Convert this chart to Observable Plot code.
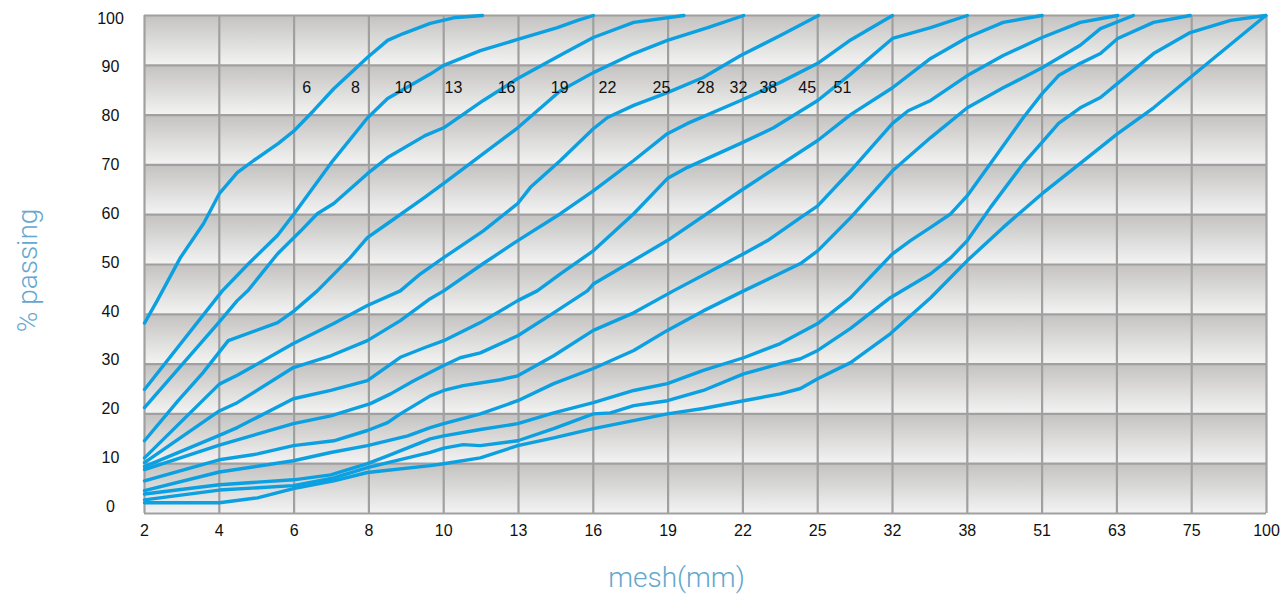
<!DOCTYPE html>
<html><head><meta charset="utf-8">
<script src="https://cdn.jsdelivr.net/npm/d3@7"></script>
<script src="https://cdn.jsdelivr.net/npm/@observablehq/plot@0.6"></script>
<style>
html,body{margin:0;padding:0;background:#fff;}
#chart svg{display:block;}
</style>
</head><body><div id="chart"></div>
<script>
// x axis categories (evenly spaced sieve sizes, mm)
const meshTicks = ["2","4","6","8","10","13","16","19","22","25","32","38","51","63","75","100"];
// y axis tick labels (% passing)
const yTicks = [0,10,20,30,40,50,60,70,80,90,100];
// curve names (max aggregate size) and where their labels sit (mesh position, % passing)
const curveNames = ["6","8","10","13","16","19","22","25","28","32","38","45","51"];
const labelMeshPos = [2.17,2.82,3.46,4.13,4.84,5.55,6.19,6.91,7.5,7.94,8.34,8.86,9.33];
const labelPassing = [85.2,85.2,85.2,85.2,85.2,85.2,85.2,85.2,85.2,85.2,85.2,85.2,85.2];

// grading curves: [mesh position (0 = 2 mm ... 15 = 100 mm), % passing]
const s6 = [[0,37],[0.17,41.6],[0.48,50.4],[0.79,57.4],[1.0,63.5],[1.24,67.8],[1.46,70.3],[1.79,73.8],[2.0,76.4],[2.26,80.5],[2.53,85],[2.98,91.4],[3.25,94.9],[3.46,96.3],[3.82,98.4],[4.16,99.6],[4.52,100]];
const s8 = [[0,23.4],[1.04,43.6],[1.38,49],[1.78,55],[2.0,59.4],[2.49,69.7],[2.98,79],[3.25,83],[3.82,88],[4.0,89.8],[4.49,92.8],[4.99,95.1],[5.52,97.5],[5.79,99],[6.0,100]];
const s10 = [[0,19.7],[0.98,36.9],[1.24,41.6],[1.38,43.6],[1.78,51.2],[2.09,55.9],[2.31,59.4],[2.53,61.5],[2.98,67.6],[3.25,70.9],[3.75,75.4],[4.0,77],[4.53,82.6],[4.99,87.1],[5.6,92.2],[6.0,95.5],[6.54,98.6],[7.21,100]];
const s13 = [[0,12.9],[0.45,21.1],[0.78,26.8],[1.12,33.4],[1.78,37.1],[2.0,39.5],[2.31,43.6],[2.75,50.4],[2.98,54.5],[3.25,57.4],[3.75,62.8],[4.0,65.6],[4.53,71.7],[4.99,77],[5.56,84.6],[6.0,88.3],[6.54,92.2],[6.99,94.9],[7.53,97.5],[8.01,100]];
const s16 = [[0,9.4],[1.0,24.5],[1.24,26.3],[1.99,32.8],[2.53,36.9],[2.98,40.6],[3.42,43.6],[3.69,47.1],[4.0,50.4],[4.53,55.9],[4.99,61.5],[5.16,64.8],[5.56,70.3],[6.0,76.8],[6.19,79.1],[6.54,81.6],[6.99,84.2],[7.47,87.3],[7.97,91.8],[8.5,95.9],[9.01,100]];
const s19 = [[0,8.4],[1.0,19],[1.24,20.7],[1.99,27.9],[2.49,30.3],[2.98,33.4],[3.42,37.5],[3.82,42],[4.0,43.6],[4.53,49.2],[4.99,53.9],[5.56,59.4],[6.0,64.1],[6.54,70.3],[6.99,75.8],[7.26,77.9],[7.97,82.6],[8.5,86.3],[9.0,90.2],[9.44,95],[10.0,100]];
const s22 = [[0,7.6],[1.0,14],[1.24,15.6],[1.99,21.5],[2.49,23.2],[2.98,25.2],[3.42,30],[3.75,32],[4.0,33.4],[4.49,37.1],[4.99,41.6],[5.25,43.6],[5.56,47.1],[6.0,51.8],[6.54,59.4],[6.99,66.6],[7.26,68.9],[7.97,73.8],[8.41,77],[9.0,82.6],[9.44,88],[10.0,95.3],[10.51,97.5],[11.0,100]];
const s25 = [[0,7.0],[1.0,12],[1.99,16.4],[2.49,18],[3.02,20.5],[3.29,22.5],[3.6,25.2],[4.0,28.3],[4.22,29.9],[4.49,30.9],[4.99,34.4],[5.47,39.1],[5.92,43.6],[6.0,45],[6.99,53.9],[7.97,64.1],[9.0,74.4],[9.44,79.7],[10.0,85.2],[10.51,91.2],[11.0,95.5],[11.48,98.6],[12.0,100]];
const s28 = [[0,4.7],[1.0,9],[1.51,10.2],[1.99,11.9],[2.53,12.9],[2.98,15],[3.25,16.6],[3.42,18.4],[3.82,22.1],[4.0,23.2],[4.26,24.2],[4.76,25.4],[4.99,26.2],[5.47,30.3],[6.0,35.5],[6.54,39.1],[7.07,43.6],[8.01,51.2],[8.33,53.9],[8.77,58.6],[9.0,61],[9.44,68.2],[10.0,77.9],[10.21,80.5],[10.51,82.6],[11.0,87.7],[11.48,91.8],[12.0,95.5],[12.51,98.6],[13.01,100]];
const s32 = [[0,2.7],[1.0,6.5],[1.99,8.8],[2.49,10.5],[2.98,11.9],[3.52,13.9],[3.82,15.6],[4.0,16.4],[4.49,18.4],[4.99,21.1],[5.47,24.6],[6.0,27.7],[6.54,31.4],[6.99,35.5],[7.47,39.5],[8.01,43.6],[8.77,49.2],[9.0,51.8],[9.44,58.6],[10.0,68.2],[10.51,75],[11.0,81.1],[11.48,85.2],[11.75,87.3],[12.0,89.3],[12.51,93.9],[12.78,97.3],[13.22,100]];
const s38 = [[0,2.0],[1.0,3.9],[1.99,4.9],[2.49,5.9],[2.98,8.2],[3.25,9.8],[3.82,13.3],[4.0,13.9],[4.49,15.2],[4.99,16.4],[5.47,18.6],[6.0,20.7],[6.54,23.2],[6.99,24.6],[7.47,27.3],[8.01,29.9],[8.5,32.8],[9.0,36.9],[9.44,42.2],[10.0,51.2],[10.24,53.9],[10.51,56.6],[10.78,59.4],[11.0,63.1],[11.31,69.7],[11.75,79.1],[12.0,84],[12.22,87.7],[12.51,90.2],[12.78,92.2],[13.01,95.3],[13.49,98.6],[13.98,100]];
const s45 = [[0,0.8],[1.0,2.8],[1.99,3.7],[2.53,5.3],[2.98,7.4],[3.82,10.5],[4.0,11.4],[4.26,12.1],[4.49,11.9],[4.99,12.9],[5.47,15.4],[6.0,18.4],[6.23,18.6],[6.54,20.1],[6.99,21.1],[7.47,23.2],[8.01,26.6],[8.5,28.7],[8.77,29.7],[9.0,31.4],[9.44,35.9],[9.97,42.2],[10.51,47.1],[10.78,50.4],[11.0,53.9],[11.31,60.7],[11.75,69.7],[11.94,73],[12.22,77.9],[12.51,81.1],[12.78,83.2],[13.01,86.1],[13.49,92.2],[13.98,96.5],[14.52,99],[14.99,100]];
const s51 = [[0,0.2],[1.0,0.2],[1.51,1.2],[1.99,3.1],[2.53,4.7],[2.98,6.4],[3.82,7.8],[4.0,8.2],[4.49,9.4],[4.99,11.9],[5.47,13.5],[6.0,15.4],[6.99,18.4],[7.47,19.5],[8.01,21.1],[8.5,22.5],[8.77,23.6],[9.0,25.6],[9.44,28.9],[9.97,34.8],[10.51,42.2],[11.0,49.8],[11.48,56.6],[12.0,63.5],[12.51,69.7],[13.01,75.8],[13.49,81.1],[13.98,87.3],[14.99,100]];

const series = [s6,s8,s10,s13,s16,s19,s22,s25,s28,s32,s38,s45,s51];
const rows = series.flatMap((pts, k) => pts.map(([m, p]) => ({curve: curveNames[k], mesh: m, passing: p})));
const labels = curveNames.map((name, k) => ({name, mesh: labelMeshPos[k], passing: labelPassing[k]}));

const meshIdx = d3.range(meshTicks.length);
const lastIdx = meshTicks.length - 1;
// background bands between horizontal grid lines
const yBottom = -2, yTop = 100;
const bandEdges = d3.range(11).map(k => yBottom + k * (yTop - yBottom) / 10);
const bands = d3.pairs(bandEdges).map(([a, b]) => ({a, b}));

const gridColor = "#a0a0a0";
const lineColor = "#0aa0e1";
const titleColor = "#63a8d0";
const titleFont = "Roboto, 'Liberation Sans', Arial, sans-serif";

const chart = Plot.plot({
  width: 1286, height: 594,
  marginLeft: 144, marginRight: 20, marginTop: 15, marginBottom: 81,
  x: {domain: [0, lastIdx]},
  y: {domain: [yBottom, yTop]},
  style: {fontFamily: "'Liberation Sans', Arial, sans-serif", fontSize: "16px", color: "#111", background: "#fff", overflow: "visible"},
  marks: [
    Plot.rect(bands, {x1: () => 0, x2: () => lastIdx, y1: "a", y2: "b", fill: "url(#bandGrad)"}),
    Plot.ruleX(meshIdx, {stroke: gridColor, strokeWidth: 2.2, strokeOpacity: 1}),
    Plot.ruleY(bandEdges, {stroke: gridColor, strokeWidth: 2.2, strokeOpacity: 1}),
    Plot.line(rows, {x: "mesh", y: "passing", z: "curve", stroke: lineColor, strokeWidth: 3.4, strokeLinejoin: "round", strokeLinecap: "round"}),
    Plot.text(labels, {x: "mesh", y: "passing", text: "name", fontSize: 16, fill: "#111"}),
    Plot.axisX({ticks: meshIdx, tickFormat: i => meshTicks[i], tickSize: 0, tickPadding: 11, label: null, fontSize: 16}),
    Plot.axisY({ticks: yTicks, tickSize: 0, tickPadding: 34, textAnchor: "middle", dy: 3, label: null, fontSize: 16}),
    Plot.text(["mesh(mm)"], {frameAnchor: "bottom", textAnchor: "middle", lineAnchor: "middle", dx: -29, dy: 65, fontSize: 28, fontWeight: 300, fontFamily: titleFont, fill: titleColor}),
    Plot.text(["% passing"], {frameAnchor: "left", textAnchor: "middle", lineAnchor: "middle", rotate: -90, dx: -116, dy: 6, fontSize: 28, fontWeight: 300, fontFamily: titleFont, fill: titleColor})
  ]
});

// vertical gradient used by each background band
const ns = "http://www.w3.org/2000/svg";
const defs = document.createElementNS(ns, "defs");
const grad = document.createElementNS(ns, "linearGradient");
grad.setAttribute("id", "bandGrad");
grad.setAttribute("x1", "0"); grad.setAttribute("y1", "0");
grad.setAttribute("x2", "0"); grad.setAttribute("y2", "1");
[["0%", "#c3c2c0"], ["100%", "#f3f3f3"]].forEach(([o, c]) => {
  const s = document.createElementNS(ns, "stop");
  s.setAttribute("offset", o); s.setAttribute("stop-color", c);
  grad.appendChild(s);
});
defs.appendChild(grad);
chart.insertBefore(defs, chart.firstChild);
document.getElementById("chart").appendChild(chart);
</script>
</body></html>
